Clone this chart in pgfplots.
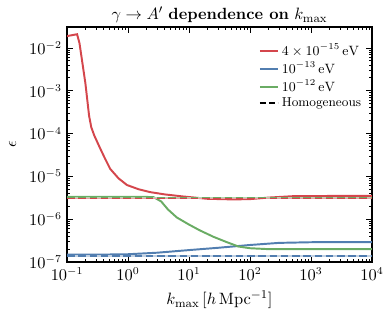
\documentclass[border=0pt]{standalone}
\usepackage{pgfplots}
\pgfplotsset{compat=1.18}
\definecolor{cred}{RGB}{212,70,76}
\definecolor{cblue}{RGB}{82,126,176}
\definecolor{cgreen}{RGB}{106,172,100}
\begin{document}
\begin{tikzpicture}
\begin{axis}[
  scale only axis,
  width=203.3pt, height=156.7pt,
  xmode=log, ymode=log,
  xmin=0.1, xmax=1e4, ymin=1e-7, ymax=0.031,
  axis line style={line width=1.2pt},
  tick align=inside,
  xtick pos=both, ytick pos=both,
  major tick length=4pt, minor tick length=2pt,
  every tick/.style={black, line width=0.6pt},
  xtick={0.1,1,10,100,1000,10000},
  ytick={1e-7,1e-6,1e-5,1e-4,1e-3,1e-2},
  tick label style={font=\fontsize{10.5}{12}\selectfont},
  title={$\gamma\to A'$ \textbf{dependence on} $k_{\max}$},
  title style={at={(0.5,1)}, anchor=base, yshift=-1.3pt, font=\fontsize{10.8}{13}\selectfont},
  xlabel={$k_{\max}\,[h\,\mathrm{Mpc}^{-1}]$},
  ylabel={$\epsilon$},
  label style={font=\fontsize{11}{13}\selectfont},
  ylabel style={at={(axis description cs:-0.15,0.5)}},
  legend style={draw=none, fill=none, at={(0.99,0.955)}, anchor=north east, font=\fontsize{8.6}{10}\selectfont, row sep=-1.2pt},
  legend cell align=left,
  legend image code/.code={\draw[#1] (0pt,0pt) -- (12pt,0pt);},
  every axis plot/.append style={line width=1.3pt},
]
\addplot[cred] coordinates {
(0.1,1.9e-2) (0.146,2.1e-2) (0.16,1.3e-2) (0.2,1.5e-3) (0.23,2.6e-4) (0.25,1.4e-4) (0.28,9e-5) (0.35,4.5e-5) (0.42,2.6e-5) (0.51,1.5e-5) (0.7,9e-6) (0.96,6.3e-6) (1.5,5e-6) (2.3,4.3e-6) (4,3.8e-6) (8,3.4e-6) (20,3.0e-6) (53,2.9e-6) (100,2.95e-6) (200,3.2e-6) (500,3.45e-6) (2300,3.5e-6) (10000,3.5e-6)
};
\addlegendentry{$4\times10^{-15}\,\mathrm{eV}$}
\addplot[cblue] coordinates {
(0.1,1.5e-7) (0.5,1.5e-7) (1,1.52e-7) (3,1.65e-7) (10,1.9e-7) (30,2.15e-7) (100,2.5e-7) (300,2.8e-7) (1000,2.9e-7) (10000,2.92e-7)
};
\addlegendentry{$10^{-13}\,\mathrm{eV}$}
\addplot[cgreen] coordinates {
(0.1,3.35e-6) (1,3.35e-6) (2.6,3.3e-6) (3.5,2.6e-6) (4.5,1.7e-6) (6.3,1.1e-6) (10,7.5e-7) (15,5.5e-7) (25,3.9e-7) (42,2.9e-7) (65,2.3e-7) (100,2.1e-7) (200,2.0e-7) (10000,2.0e-7)
};
\addlegendentry{$10^{-12}\,\mathrm{eV}$}
\addlegendimage{black, dash pattern=on 4pt off 2pt, line width=1.3pt}
\addlegendentry{Homogeneous}
\addplot[cred!50, forget plot] coordinates {(0.1,3.12e-6) (10000,3.12e-6)};
\addplot[cred, dash pattern=on 5pt off 2.5pt, forget plot] coordinates {(0.1,3.12e-6) (10000,3.12e-6)};
\addplot[cgreen!50, forget plot] coordinates {(0.1,3.22e-6) (10000,3.22e-6)};
\addplot[cgreen, dash pattern=on 5pt off 2.5pt, forget plot] coordinates {(0.1,3.22e-6) (10000,3.22e-6)};
\addplot[cblue!35, forget plot] coordinates {(0.1,1.4e-7) (10000,1.4e-7)};
\addplot[cblue, dash pattern=on 5pt off 2.5pt, forget plot] coordinates {(0.1,1.4e-7) (10000,1.4e-7)};
\end{axis}
\pgfresetboundingbox
\path ([shift={(-44.7pt,-36.7pt)}]current axis.south west) rectangle ([shift={(12.7pt,18pt)}]current axis.north east);
\end{tikzpicture}
\end{document}
